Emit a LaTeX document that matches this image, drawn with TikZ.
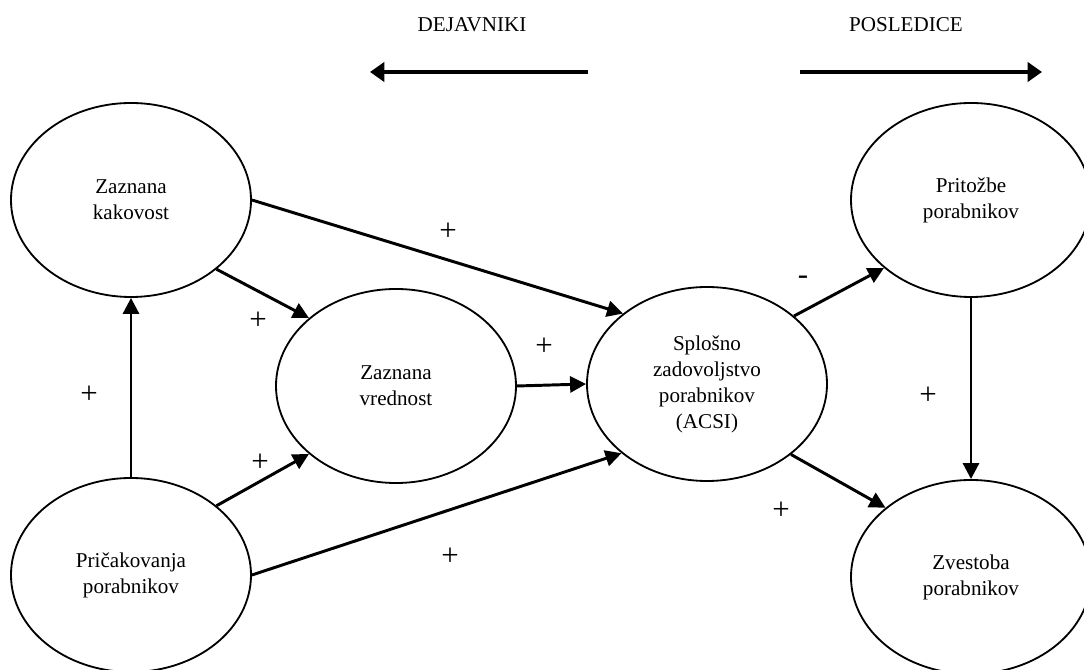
\documentclass[tikz,border=0pt]{standalone}
\usepackage{fontspec}
\setmainfont{Liberation Serif}
\usetikzlibrary{arrows.meta,shapes.geometric}

\begin{document}
\begin{tikzpicture}[
    every node/.style={font=\fontsize{15}{18.5}\selectfont, align=center},
    konstrukt/.style={ellipse, draw, line width=1.3pt, minimum width=6cm, minimum height=4.85cm, inner sep=0pt},
    vpliv/.style={line width=2.1pt, -{Triangle[length=0.4cm, width=0.4cm]}},
    smer/.style={line width=3.5pt, -{Triangle[length=0.36cm, width=0.48cm]}},
    predznak/.style={inner sep=1pt, font=\fontsize{22}{22}\selectfont} % oznaka ob puscici
    ]
    \useasboundingbox (0,0) rectangle (27.1,16.75);

    % naslova in smeri
    \node (dejavniki) at (11.8,16.125) {DEJAVNIKI};
    \node (posledice) at (22.65,16.125) {POSLEDICE};
    \coordinate (dejZ) at (14.7,14.95);
    \coordinate (dejK) at (9.25,14.95);
    \coordinate (posZ) at (20,14.95);
    \coordinate (posK) at (26.05,14.95);
    \draw[smer] (dejZ) -- (dejK);
    \draw[smer] (posZ) -- (posK);

    % konstrukti
    \node[konstrukt] (kakovost) at (3.275,11.75) {Zaznana\\kakovost};
    \node[konstrukt] (pricakovanja) at (3.275,2.375) {Pričakovanja\\porabnikov};
    \node[konstrukt] (vrednost) at (9.9,7.1) {Zaznana\\vrednost};
    \node[konstrukt] (acsi) at (17.675,7.15) {Splošno\\zadovoljstvo\\porabnikov\\(ACSI)};
    \node[konstrukt] (pritozbe) at (24.275,11.75) {Pritožbe\\porabnikov};
    \node[konstrukt] (zvestoba) at (24.275,2.325) {Zvestoba\\porabnikov};

    % povezave
    \draw[vpliv] (pricakovanja.north) -- (kakovost.south);
    \draw[vpliv] (kakovost.-39) -- (vrednost.142);
    \draw[vpliv] (kakovost.east) -- (acsi.140);
    \draw[vpliv] (pricakovanja.39) -- (vrednost.218);
    \draw[vpliv] (pricakovanja.east) -- (acsi.219);
    \draw[vpliv] (vrednost.east) -- (acsi.west);
    \draw[vpliv] (acsi.38) -- (pritozbe.218);
    \draw[vpliv] (acsi.-40) -- (zvestoba.141);
    \draw[vpliv] (pritozbe.south) -- (zvestoba.north);

    % predznaki
    \node[predznak] (z1) at (11.2,10.95) {+};
    \node[predznak] (z2) at (6.45,8.725) {+};
    \node[predznak] (z3) at (2.225,6.875) {+};
    \node[predznak] (z4) at (13.6,8.075) {+};
    \node[predznak] (z5) at (6.5,5.175) {+};
    \node[predznak] (z6) at (11.25,2.825) {+};
    \node[predznak] (z7) at (20.075,9.75) {-};
    \node[predznak] (z8) at (23.2,6.85) {+};
    \node[predznak] (z9) at (19.525,3.975) {+};
\end{tikzpicture}
\end{document}
